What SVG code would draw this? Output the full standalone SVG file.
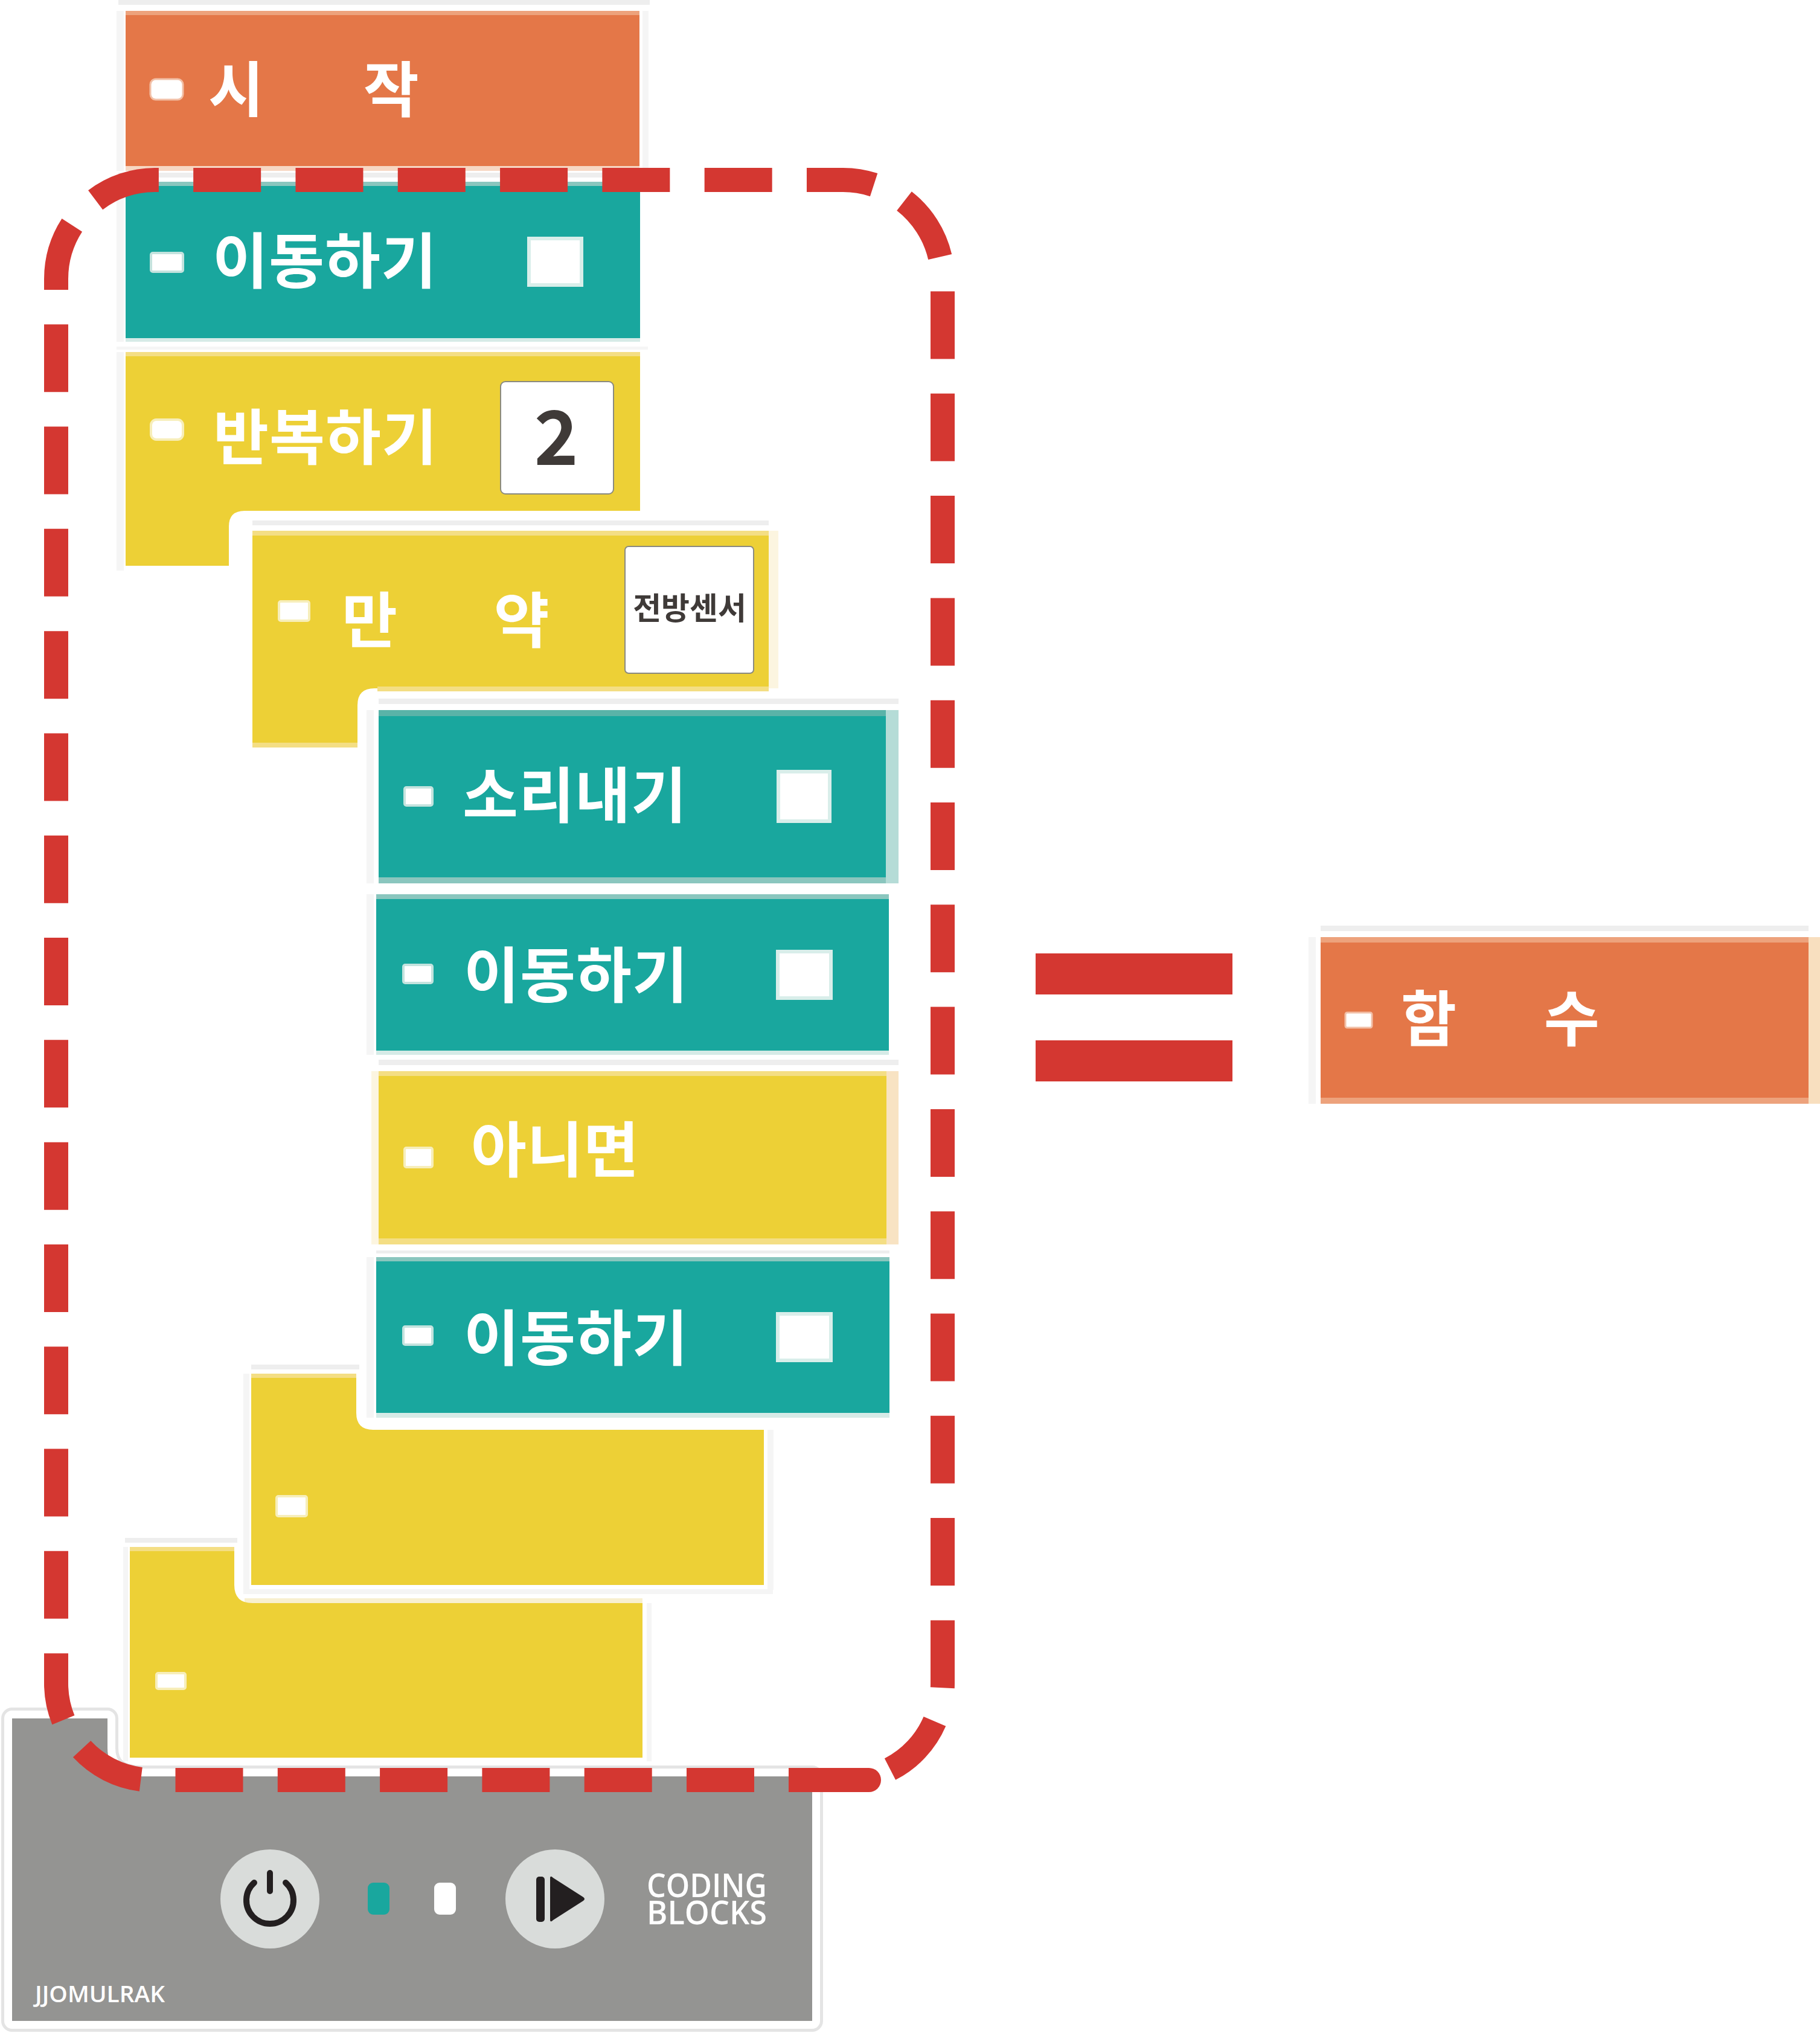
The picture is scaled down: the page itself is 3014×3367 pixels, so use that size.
<svg xmlns="http://www.w3.org/2000/svg" width="3014" height="3367" viewBox="0 0 3014 3367">
<style>
.o{fill:#e47748}.t{fill:#19a79e}.y{fill:#edd036}
.h{fill:#eeeeee}.f{fill:#f5f5f5}
.w{fill:#ffffff}
.tb{fill:#8ac6be}.tp{fill:#d6ebe7}.yb{fill:#f4de84}.ob{fill:#eda27c}.yp{fill:#fcf5e0}
.st{fill:#ffffff;stroke:#c4e3de;stroke-width:4}
.sy{fill:#ffffff;stroke:#f7eeba;stroke-width:4}
.so{fill:#ffffff;stroke:#f2bfa6;stroke-width:3}
.sq{fill:#ffffff;stroke:#d9eeea;stroke-width:6}
.l{font-family:"Noto Sans CJK KR","Noto Sans",sans-serif;font-weight:700;font-size:100px;letter-spacing:1px;fill:#ffffff}
.n{font-family:"Noto Sans CJK KR","Noto Sans",sans-serif;font-weight:700;fill:#3f3a38}
.e{font-family:"Open Sans","Noto Sans",sans-serif;fill:#ffffff}
.box{fill:#ffffff;stroke:#8a8a80;stroke-width:2}
.dash{fill:none;stroke:#d43731;stroke-width:40;stroke-dasharray:112 57.3}
</style>
<rect width="3014" height="3367" fill="#ffffff"/>

<g id="board">
<path d="M20,2846H178V2895Q178,2942 235,2942H1345V3347H20Z" fill="none" stroke="#e4e4e4" stroke-width="36" stroke-linejoin="round"/>
<path d="M20,2846H178V2895Q178,2942 235,2942H1345V3347H20Z" fill="#ffffff" stroke="#ffffff" stroke-width="26" stroke-linejoin="round"/>
<path d="M20,2846H178V2895Q178,2942 235,2942H1345V3347H20Z" fill="#949492"/>
<circle cx="447" cy="3145" r="82" fill="#d9dcda"/>
<path d="M473,3118A39,39 0 1 1 421,3118" fill="none" stroke="#231f20" stroke-width="10" stroke-linecap="round"/>
<line x1="447" y1="3102" x2="447" y2="3132" stroke="#231f20" stroke-width="10" stroke-linecap="round"/>
<rect x="609" y="3118" width="36" height="53" rx="9" fill="#19a79e"/>
<rect x="719" y="3118" width="36" height="53" rx="9" fill="#ffffff"/>
<circle cx="919" cy="3145" r="82" fill="#d9dcda"/>
<rect x="888" y="3108" width="14" height="75" rx="5" fill="#231f20"/>
<path d="M911,3111Q911,3105 916,3110L966,3142Q970,3145 966,3148L916,3180Q911,3185 911,3179Z" fill="#231f20"/>
<text class="e" x="1071" y="3142" font-size="54" font-weight="600" textLength="199" lengthAdjust="spacingAndGlyphs">CODING</text>
<text class="e" x="1071" y="3187" font-size="54" font-weight="600" textLength="199" lengthAdjust="spacingAndGlyphs">BLOCKS</text>
<text class="e" x="58" y="3316" font-size="37" font-weight="600" textLength="215" lengthAdjust="spacingAndGlyphs">JJOMULRAK</text>
</g>

<g id="block-start">
<rect class="h" x="196" y="0" width="880" height="8"/>
<rect class="f" x="193" y="18" width="12" height="265"/>
<rect class="f" x="1064" y="18" width="10" height="265"/>
<rect class="o" x="208" y="18" width="851" height="257"/>
<rect class="ob" x="208" y="18" width="851" height="7"/>
<rect x="208" y="275" width="851" height="8" fill="#f7d7c3"/>
<rect class="so" x="249" y="131" width="54" height="34" rx="9"/>
<text class="l" x="345" y="185" word-spacing="140">시 작</text>
</g>

<g id="block-move-1">
<rect class="h" x="196" y="286" width="864" height="8"/>
<rect class="f" x="193" y="301" width="12" height="265"/>
<rect class="t" x="208" y="301" width="852" height="259"/>
<rect class="tb" x="208" y="301" width="852" height="7"/>
<rect class="tp" x="208" y="560" width="852" height="6"/>
<rect class="st" x="250" y="419" width="53" height="31" rx="3"/>
<text class="l" x="352" y="469">이동하기</text>
<rect class="sq" x="876" y="395" width="87" height="77"/>
</g>

<g id="block-repeat">
<rect class="f" x="193" y="574" width="880" height="5"/>
<rect class="f" x="193" y="583" width="12" height="362"/>
<path class="y" d="M208,583H1060V846H405Q379,846 379,872V937H208Z"/>
<rect class="yb" x="208" y="583" width="852" height="7"/>
<rect class="box" x="829" y="632" width="187" height="186" rx="8"/>
<rect class="sy" x="250" y="695" width="53" height="33" rx="9"/>
<text class="l" x="353" y="761">반복하기</text>
<text class="n" x="921" y="770" font-size="124" text-anchor="middle">2</text>
</g>

<g id="block-if">
<rect class="h" x="418" y="862" width="855" height="8"/>
<rect class="yp" x="1273" y="879" width="16" height="261"/>
<path class="y" d="M418,879H1273V1140H620Q592,1140 592,1168V1234H418Z"/>
<rect class="yb" x="418" y="879" width="855" height="8"/>
<rect class="yb" x="625" y="1137" width="648" height="8"/>
<rect class="yb" x="418" y="1230" width="174" height="8"/>
<rect class="sy" x="462" y="996" width="50" height="32" rx="3"/>
<text class="l" x="566" y="1064" word-spacing="135">만 약</text>
<rect class="box" x="1035" y="905" width="213" height="210" rx="6"/>
<text class="n" x="1142" y="1026" font-size="51" font-weight="900" text-anchor="middle">전방센서</text>
</g>

<g id="block-sound">
<rect class="h" x="627" y="1157" width="861" height="9"/>
<rect class="f" x="607" y="1176" width="12" height="287"/>
<rect x="627" y="1176" width="861" height="287" fill="#b5dcd7"/>
<rect class="t" x="627" y="1176" width="840" height="277"/>
<rect x="627" y="1176" width="840" height="10" fill="#5ab3a8"/>
<rect class="tb" x="627" y="1453" width="840" height="10"/>
<rect class="st" x="670" y="1304" width="46" height="30" rx="3"/>
<text class="l" x="766" y="1354">소리내기</text>
<rect class="sq" x="1289" y="1278" width="85" height="82"/>
</g>

<g id="block-move-2">
<rect class="f" x="607" y="1481" width="12" height="266"/>
<rect class="t" x="623" y="1481" width="849" height="259"/>
<rect class="tb" x="623" y="1481" width="849" height="8"/>
<rect class="tp" x="623" y="1740" width="849" height="7"/>
<rect class="st" x="668" y="1598" width="48" height="30" rx="3"/>
<text class="l" x="768" y="1652">이동하기</text>
<rect class="sq" x="1288" y="1576" width="88" height="77"/>
</g>

<g id="block-else">
<rect class="h" x="627" y="1755" width="861" height="9"/>
<rect class="yp" x="615" y="1774" width="12" height="287"/>
<rect x="1468" y="1774" width="20" height="287" fill="#f8e3c3"/>
<rect class="y" x="627" y="1774" width="841" height="287"/>
<rect class="yb" x="627" y="1774" width="841" height="8"/>
<rect class="yb" x="627" y="2051" width="841" height="10"/>
<rect class="sy" x="670" y="1901" width="46" height="32" rx="3"/>
<text class="l" x="780" y="1941">아니면</text>
</g>

<g id="block-move-3">
<rect class="h" x="623" y="2071" width="850" height="5"/>
<rect class="f" x="607" y="2082" width="12" height="266"/>
<rect class="t" x="623" y="2082" width="850" height="258"/>
<rect class="tb" x="623" y="2082" width="850" height="7"/>
<rect class="tp" x="623" y="2340" width="850" height="8"/>
<rect class="st" x="668" y="2197" width="48" height="30" rx="3"/>
<text class="l" x="768" y="2253">이동하기</text>
<rect class="sq" x="1288" y="2176" width="88" height="77"/>
</g>

<g id="block-if-end">
<rect class="h" x="416" y="2260" width="179" height="8"/>
<rect class="f" x="403" y="2275" width="10" height="365"/>
<rect class="f" x="403" y="2632" width="877" height="8"/>
<rect class="f" x="1271" y="2368" width="10" height="265"/>
<path class="y" d="M416,2275H590V2340Q590,2368 618,2368H1265V2625H416Z"/>
<rect class="yb" x="416" y="2275" width="174" height="7"/>
<rect class="sy" x="458" y="2478" width="50" height="33" rx="3"/>
</g>

<g id="block-repeat-end">
<rect class="h" x="207" y="2547" width="186" height="8"/>
<rect class="f" x="204" y="2562" width="8" height="355"/>
<rect class="f" x="1071" y="2655" width="8" height="262"/>
<rect x="405" y="2647" width="659" height="8" fill="#f8f0d0"/>
<path class="y" d="M215,2562H388V2625Q388,2655 418,2655H1064V2911H215Z"/>
<rect class="yb" x="215" y="2562" width="173" height="7"/>
<rect class="sy" x="259" y="2771" width="48" height="26" rx="3"/>
</g>

<g id="connectors">
<path class="dash" d="M1249,2948H253A160,160 0 0 1 93,2788V462A164,164 0 0 1 257,298H1396A165,165 0 0 1 1561,463V2788A160,160 0 0 1 1474,2930"/>
<path d="M1306,2928H1439A20,20 0 0 1 1439,2968H1306Z" fill="#d43731"/>
<rect x="1715" y="1579" width="326" height="68" fill="#d43731"/>
<rect x="1715" y="1723" width="326" height="68" fill="#d43731"/>
</g>

<g id="block-function">
<rect class="h" x="2187" y="1533" width="808" height="9"/>
<rect class="f" x="2167" y="1552" width="12" height="276"/>
<rect x="2187" y="1552" width="827" height="276" fill="#f8dfbf"/>
<rect class="o" x="2187" y="1552" width="808" height="266"/>
<rect class="ob" x="2187" y="1552" width="808" height="9"/>
<rect class="ob" x="2187" y="1818" width="808" height="10"/>
<rect class="so" x="2228" y="1677" width="44" height="25" rx="3"/>
<text class="l" x="2320" y="1724" word-spacing="120">함 수</text>
</g>
</svg>
